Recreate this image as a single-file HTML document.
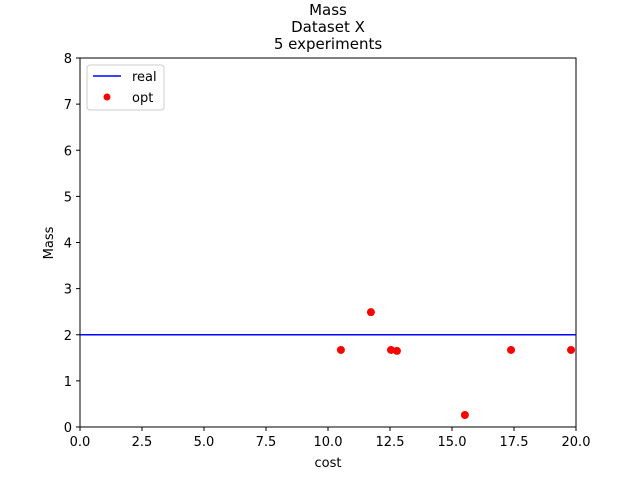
<!DOCTYPE html>
<html><head><meta charset="utf-8"><style>
body{margin:0;background:#fff;}
svg text{font-family:"DejaVu Sans","Liberation Sans",sans-serif;font-size:13px;fill:#000;}
</style></head><body>
<svg id="chart" width="640" height="480">
<text x="328" y="15" text-anchor="middle" style="font-size:15px">Mass</text>
<text x="328" y="32" text-anchor="middle" style="font-size:15px">Dataset X</text>
<text x="328" y="49" text-anchor="middle" style="font-size:15px">5 experiments</text>
<g id="marks"></g>
<rect x="80" y="58" width="496" height="369" fill="none" stroke="#000" stroke-width="1"/>
<g id="axes"></g>
<text x="328" y="467" text-anchor="middle">cost</text>
<text transform="translate(53,243) rotate(-90)" text-anchor="middle">Mass</text>
<g>
<rect x="87" y="65" width="77" height="45" rx="3" fill="#fff" stroke="#ccc"/>
<line x1="93" y1="76" x2="121" y2="76" stroke="blue" stroke-width="1.5"/>
<text x="132" y="81">real</text>
<circle cx="107" cy="97" r="3.5" fill="red"/>
<text x="132" y="102">opt</text>
</g>
</svg>
<script>
const xTicks=[0,2.5,5,7.5,10,12.5,15,17.5,20];
const yTicks=[0,1,2,3,4,5,6,7,8];
const realValue=2;
const optX=[10.52,11.73,12.54,12.78,15.52,17.38,19.8];
const optY=[1.67,2.49,1.67,1.65,0.26,1.67,1.67];
const NS="http://www.w3.org/2000/svg";
const X=v=>80+v/20*496, Y=v=>427-v/8*369;
function mk(t,a,p){const e=document.createElementNS(NS,t);for(const k in a)e.setAttribute(k,a[k]);p.appendChild(e);return e;}
const axes=document.getElementById('axes'), marks=document.getElementById('marks');
xTicks.forEach(v=>{
  const l=mk('line',{x1:X(v),x2:X(v),y1:427,y2:431,stroke:'#000'},axes);
  
  
  const t=mk('text',{x:X(v),y:446,'text-anchor':'middle'},axes);t.textContent=v.toFixed(1);
  
  
});
yTicks.forEach(v=>{
  const l=mk('line',{x1:76,x2:80,y1:Y(v),y2:Y(v),stroke:'#000'},axes);
  
  
  const t=mk('text',{x:72,y:Y(v)+5,'text-anchor':'end'},axes);t.textContent=v;
  
  
});
const rl=mk('line',{x1:X(0),x2:X(20),y1:Y(realValue),y2:Y(realValue),stroke:'blue','stroke-width':1.5},marks);


optX.forEach((x,i)=>{
  const c=mk('circle',{cx:X(x),cy:Y(optY[i]),r:4,fill:'red'},marks);
  
  
});
</script>
</body></html>
